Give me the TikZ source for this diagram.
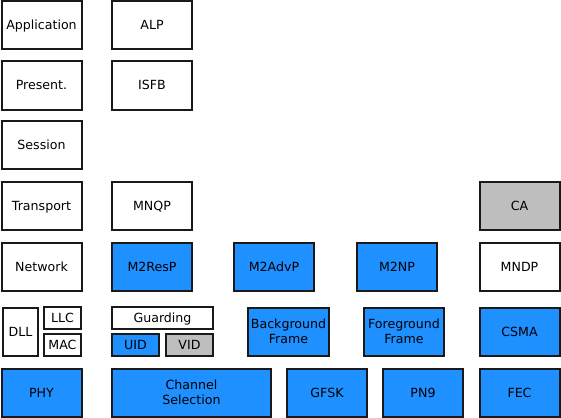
\documentclass[tikz,border=0pt]{standalone}
\usepackage{fontspec}
\setmainfont{DejaVu Sans}
\definecolor{dblue}{HTML}{1E90FF}
\definecolor{lgray}{HTML}{BEBEBE}

\begin{document}
\begin{tikzpicture}[x=1pt,y=-1pt,
  box/.style={draw=black!90,line width=2pt,fill=white,inner sep=0pt,
    minimum width=80pt,minimum height=48pt,align=center,
    text height=12pt,text depth=3pt,
    font=\fontsize{12.6}{15.5}\selectfont},
  blu/.style={box,fill=dblue},
  gry/.style={box,fill=lgray},
  two/.style={text height={},text depth={}},
  half/.style={minimum height=22pt}]
\useasboundingbox (0,0) rectangle (561,417);

% OSI layers
\node (app) at (41.5,25.5) [box] {Application};
\node (pres) at (41.5,85.5) [box] {Present.};
\node (sess) at (41.5,145) [box] {Session};
\node (trans) at (41.5,206) [box] {Transport};
\node (net) at (41.5,267) [box] {Network};
\node (dll) at (20.5,331.5) [box,minimum width=35pt] {DLL};
\node (llc) at (62.5,318) [box,half,minimum width=37pt] {LLC};
\node (mac) at (62.5,345) [box,half,minimum width=37pt] {MAC};
\node (phy) at (41.5,392.5) [blu] {PHY};

% protocols
\node (alp) at (152,25.5) [box] {ALP};
\node (isfb) at (152,85.5) [box] {ISFB};
\node (mnqp) at (152,206) [box] {MNQP};
\node (ca) at (519.5,206) [gry] {CA};

\node (m2resp) at (152,267) [blu] {M2ResP};
\node (m2advp) at (274,267) [blu] {M2AdvP};
\node (m2np) at (397,267) [blu] {M2NP};
\node (mndp) at (519.5,267) [box] {MNDP};

\node (guard) at (162.5,318) [box,half,minimum width=101pt] {Guarding};
\node (uid) at (135.5,345) [blu,half,minimum width=47pt] {UID};
\node (vid) at (189.5,345) [gry,half,minimum width=47pt] {VID};
\node (bgf) at (288.5,331.5) [blu,two,minimum width=81pt] {Background\\Frame};
\node (fgf) at (404,331.5) [blu,two] {Foreground\\Frame};
\node (csma) at (519.5,331.5) [blu] {CSMA};

\node (chan) at (191.5,392.5) [blu,two,minimum width=159pt] {Channel\\Selection};
\node (gfsk) at (327,392.5) [blu] {GFSK};
\node (pn9) at (423,392.5) [blu] {PN9};
\node (fec) at (519.5,392.5) [blu] {FEC};
\end{tikzpicture}
\end{document}
